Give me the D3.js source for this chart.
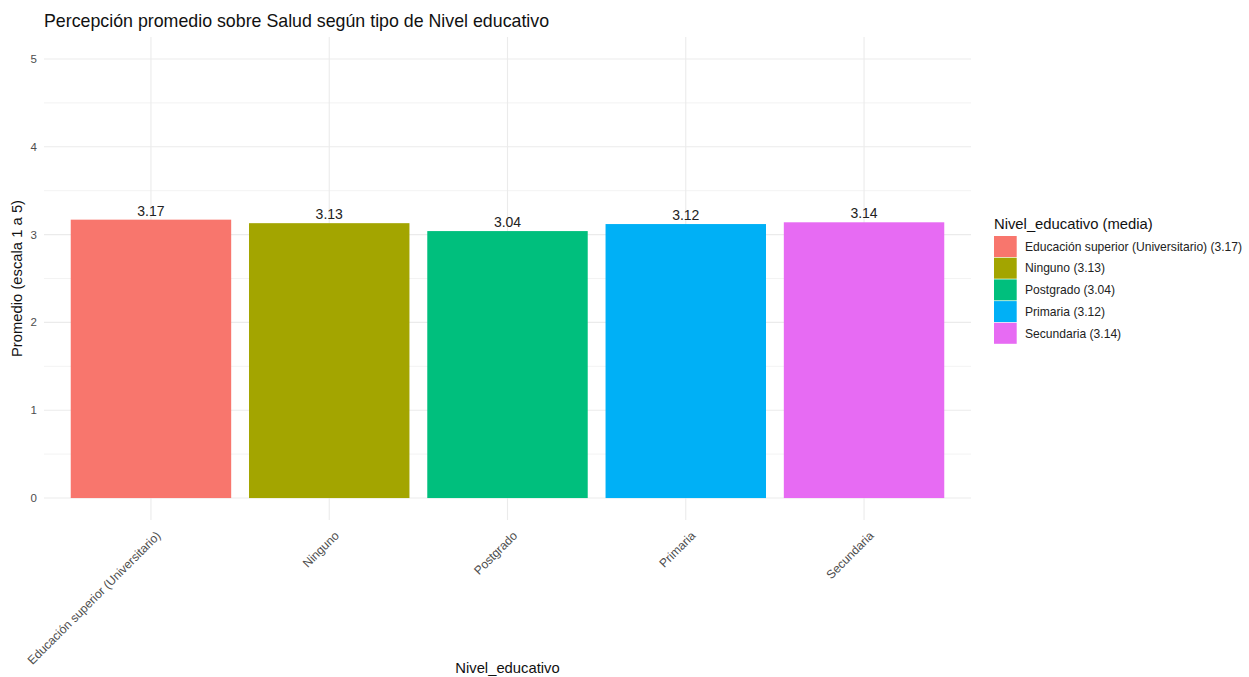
<!DOCTYPE html>
<html><head><meta charset="utf-8">
<script src="https://cdn.jsdelivr.net/npm/d3@7"></script>
<style>body{margin:0;background:#fff;} svg{display:block;font-family:"Liberation Sans",Arial,sans-serif;}</style>
</head><body><svg id="c" width="1249" height="677"></svg>
<script>
const categories = ["Educación superior (Universitario)", "Ninguno", "Postgrado", "Primaria", "Secundaria"];
const values = [3.17, 3.13, 3.04, 3.12, 3.14];
const colors = ["#F8766D", "#A3A500", "#00BF7D", "#00B0F6", "#E76BF3"];
const yTicks = [0, 1, 2, 3, 4, 5];
const yMinor = [0.5, 1.5, 2.5, 3.5, 4.5];

const svg = d3.select("#c");
const P = {l: 44, r: 971, t: 37, b: 520};

// ggplot discrete expansion 0.6 each side, bar width 0.9
const x = d3.scalePoint().domain(categories).range([P.l, P.r]).padding(0.6);
const step = x.step();
const xc = d => x(d);
const y = d3.scaleLinear().domain([-0.25, 5.25]).range([P.b, P.t]);

const grid = svg.append("g");
grid.selectAll(".minor").data(yMinor).join("line")
  .attr("x1", P.l).attr("x2", P.r).attr("y1", d => y(d)).attr("y2", d => y(d))
  .attr("stroke", "#EBEBEB").attr("stroke-width", 0.6);
grid.selectAll(".major").data(yTicks).join("line")
  .attr("x1", P.l).attr("x2", P.r).attr("y1", d => y(d)).attr("y2", d => y(d))
  .attr("stroke", "#EBEBEB").attr("stroke-width", 1.1);
grid.selectAll(".vx").data(categories).join("line")
  .attr("x1", d => xc(d)).attr("x2", d => xc(d)).attr("y1", P.t).attr("y2", P.b)
  .attr("stroke", "#EBEBEB").attr("stroke-width", 1.1);

const bw = step * 0.9;
svg.append("g").selectAll("rect").data(categories).join("rect")
  .attr("x", d => xc(d) - bw / 2).attr("width", bw)
  .attr("y", (d, i) => y(values[i])).attr("height", (d, i) => y(0) - y(values[i]))
  .attr("fill", (d, i) => colors[i]);

svg.append("g").selectAll("text").data(categories).join("text")
  .attr("x", d => xc(d)).attr("y", (d, i) => y(values[i]) - 4)
  .attr("text-anchor", "middle").attr("font-size", 14).attr("fill", "#222")
  .text((d, i) => values[i].toFixed(2));

// y axis labels
svg.append("g").selectAll("text").data(yTicks).join("text")
  .attr("x", 37).attr("y", d => y(d)).attr("dy", "0.35em")
  .attr("text-anchor", "end").attr("font-size", 11.5).attr("fill", "#4D4D4D")
  .text(d => d);

// x axis labels
svg.append("g").selectAll("text").data(categories).join("text")
  .attr("transform", d => `translate(${xc(d) + 4},${530}) rotate(-45)`)
  .attr("text-anchor", "end").attr("dy", "0.75em").attr("font-size", 12.1).attr("fill", "#4D4D4D")
  .text(d => d);

// titles
svg.append("text").attr("x", 44).attr("y", 27).attr("font-size", 17.8).attr("fill", "#111")
  .text("Percepción promedio sobre Salud según tipo de Nivel educativo");
svg.append("text").attr("x", (P.l + P.r) / 2).attr("y", 673).attr("text-anchor", "middle")
  .attr("font-size", 14.8).attr("fill", "#111").text("Nivel_educativo");
svg.append("text").attr("transform", `translate(22,${(P.t + P.b) / 2}) rotate(-90)`)
  .attr("text-anchor", "middle").attr("font-size", 14.8).attr("fill", "#111")
  .text("Promedio (escala 1 a 5)");

// legend
const lg = svg.append("g").attr("transform", "translate(994,0)");
lg.append("text").attr("x", 0).attr("y", 229).attr("font-size", 14.8).attr("fill", "#111")
  .text("Nivel_educativo (media)");
const ks = 21.7;
lg.selectAll("rect").data(categories).join("rect")
  .attr("x", 0).attr("y", (d, i) => 236 + i * ks).attr("width", 22.7).attr("height", 21)
  .attr("fill", (d, i) => colors[i]);
lg.selectAll(".lt").data(categories).join("text")
  .attr("x", 31).attr("y", (d, i) => 236 + i * ks + 10.5).attr("dy", "0.35em")
  .attr("font-size", 12.1).attr("fill", "#222")
  .text((d, i) => `${d} (${values[i].toFixed(2)})`);
</script></body></html>
